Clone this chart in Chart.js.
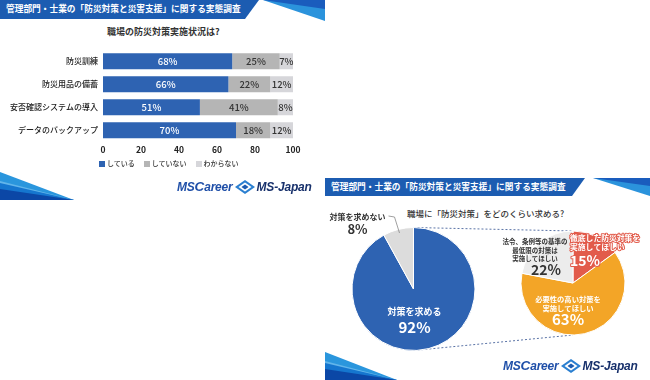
<!DOCTYPE html>
<html><head><meta charset="utf-8">
<script src="https://cdn.jsdelivr.net/npm/chart.js@4.4.0/dist/chart.umd.min.js"></script>
<style>
html,body{margin:0;padding:0;}
body{width:650px;height:380px;background:#fff;position:relative;overflow:hidden;font-family:"Noto Sans CJK JP",sans-serif;}
.abs{position:absolute;}
.hdr{position:absolute;color:#fff;font-weight:700;font-size:8.7px;white-space:nowrap;line-height:1;}
.ttl{position:absolute;color:#333;white-space:nowrap;line-height:1;}
.logo{position:absolute;display:flex;align-items:center;white-space:nowrap;font-family:"Liberation Sans",Arial,sans-serif;font-weight:700;font-style:italic;font-size:12px;line-height:1;}
.logo .msc{color:#1f4fa8;letter-spacing:-0.2px;}
.logo .msc b{font-size:13.5px;}
.logo .msj{color:#17306b;letter-spacing:-0.2px;}
.legend{position:absolute;display:flex;align-items:center;font-size:7px;color:#333;white-space:nowrap;line-height:1;font-weight:500;}
.legend span.box{display:inline-block;width:6px;height:6px;margin-right:2px;}
.legend span.item{display:flex;align-items:center;margin-right:9px;}
</style></head><body>

<svg class="abs" style="left:0;top:0" width="650" height="380">
  <!-- panel 1 header -->
  <polygon points="0,0 259,0 245,19 0,19" fill="#1c5cb1"/>
  <polygon points="263,0 325,0 325,21" fill="#2b93dc"/>
  <polygon points="263,0 325,0 325,9" fill="#1a5cbd"/>
  <!-- panel 2 header -->
  <polygon points="325,178 585,178 572,196 325,196" fill="#1c5cb1"/>
  <polygon points="593,178 650,178 650,196" fill="#2b93dc"/>
  <polygon points="593,178 650,178 650,186" fill="#1a5cbd"/>
  <!-- bottom-left decorations -->
  <g transform="translate(0,172)">
    <polygon points="0,0 74,28 0,28" fill="#2a96dd"/>
    <polygon points="0,9 74,28 0,28" fill="#62b5ea"/>
    <polygon points="0,11 74,28 0,28" fill="#1576cf"/>
    <polygon points="0,17 74,28 0,28" fill="#0b47a6"/>
  </g>
  <g transform="translate(325,352)">
    <polygon points="0,0 72,28 0,28" fill="#2a96dd"/>
    <polygon points="0,9 72,28 0,28" fill="#62b5ea"/>
    <polygon points="0,11 72,28 0,28" fill="#1576cf"/>
    <polygon points="0,17 72,28 0,28" fill="#0b47a6"/>
  </g>
</svg>

<div class="hdr" style="left:6px;top:5px;">管理部門・士業の「防災対策と災害支援」に関する実態調査</div>
<div class="hdr" style="left:331px;top:183px;">管理部門・士業の「防災対策と災害支援」に関する実態調査</div>

<div class="ttl" style="left:107px;top:27px;font-size:9px;font-weight:700;">職場の防災対策実施状況は?</div>
<div class="ttl" style="left:407px;top:209px;font-size:8.5px;font-weight:500;">職場に「防災対策」をどのくらい求める?</div>

<canvas id="overlay" class="abs" width="650" height="380" style="left:0;top:0;"></canvas>
<canvas id="bar" class="abs" width="310" height="118" style="left:0;top:40px;"></canvas>
<div id="legend" class="legend" style="left:99px;top:160px;"></div>
<canvas id="pie1" class="abs" width="160" height="160" style="left:325px;top:200px;"></canvas>
<canvas id="pie2" class="abs" width="170" height="150" style="left:480px;top:200px;"></canvas>

<div class="logo" style="left:177px;top:180px;">
  <span class="msc">MS<b>C</b>areer</span>
  <svg width="20" height="14" viewBox="0 0 20 14" style="margin:0 2px;">
    <polygon points="10,0 20,7 10,14 0,7" fill="#2a7fd0"/>
    <polygon points="10,2.5 16.5,7 10,11.5 3.5,7" fill="#fff"/>
    <polygon points="10,4.5 13.5,7 10,9.5 6.5,7" fill="#1c5cb1"/>
  </svg>
  <span class="msj">MS-Japan</span>
</div>
<div class="logo" style="left:503px;top:359px;">
  <span class="msc">MS<b>C</b>areer</span>
  <svg width="20" height="14" viewBox="0 0 20 14" style="margin:0 2px;">
    <polygon points="10,0 20,7 10,14 0,7" fill="#2a7fd0"/>
    <polygon points="10,2.5 16.5,7 10,11.5 3.5,7" fill="#fff"/>
    <polygon points="10,4.5 13.5,7 10,9.5 6.5,7" fill="#1c5cb1"/>
  </svg>
  <span class="msj">MS-Japan</span>
</div>

<script>
// ---------- data ----------
const barCategories = ['防災訓練', '防災用品の備蓄', '安否確認システムの導入', 'データのバックアップ'];
const barSeriesNames = ['している', 'していない', 'わからない'];
const doing = [68, 66, 51, 70];
const notDoing = [25, 22, 41, 18];
const unknown = [7, 12, 8, 12];
const xTicks = [0, 20, 40, 60, 80, 100];

const pie1Labels = ['対策を求める', '対策を求めない'];
const pie1Values = [92, 8];

const pie2Labels = ['徹底した防災対策を\n実施してほしい', '必要性の高い対策を\n実施してほしい', '法令、条例等の基準の\n最低限の対策は\n実施してほしい'];
const pie2Values = [15, 63, 22];

// ---------- styles ----------
const FONT = '"Noto Sans CJK JP", sans-serif';
const barColors = ['#2e63b2', '#b5b5b5', '#d6d6da'];
const barLabelColors = ['#ffffff', '#333333', '#333333'];
const pie1Colors = ['#2e63b2', '#dcdcdc'];
const pie2Colors = ['#e25b4b', '#f3a527', '#ececec'];

// label layout (offsets from pie centre, in px)
const pie1LabelLayout = [
  {x: 1, y: 23, lineH: 10, size: 9, pctSize: 15, pctGap: 15, color: '#fff', align: 'center'},
  {x: -56, y: -72, lineH: 10, size: 8, pctSize: 13, pctGap: 12, color: '#333', align: 'center',
   leader: [[-25, -73], [-19, -72], [-14, -56]]}
];
const pie2LabelLayout = [
  {x: -3, y: -45, lineH: 9.5, size: 7.8, pctSize: 14, pctGap: 13, color: '#fff', stroke: '#e25b4b', align: 'left'},
  {x: -5, y: 16, lineH: 9.5, size: 7.3, pctSize: 15, pctGap: 11, color: '#fff', align: 'center'},
  {x: -38, y: -41, lineH: 8.5, size: 6.5, pctSize: 14, pctGap: 11, pctX: 11, color: '#333', align: 'center'}
];

// ---------- bar chart ----------
const barLabelPlugin = {
  id: 'barLabels',
  afterDatasetsDraw(chart) {
    const ctx = chart.ctx;
    chart.data.datasets.forEach((ds, i) => {
      chart.getDatasetMeta(i).data.forEach((bar, j) => {
        const c = bar.getCenterPoint();
        ctx.save();
        ctx.fillStyle = barLabelColors[i];
        ctx.font = '500 9.5px ' + FONT;
        ctx.textAlign = 'center';
        ctx.textBaseline = 'middle';
        ctx.fillText(ds.data[j] + '%', c.x, c.y + 0.5);
        ctx.restore();
      });
    });
  }
};

const seriesData = [doing, notDoing, unknown];
new Chart(document.getElementById('bar'), {
  type: 'bar',
  data: {
    labels: barCategories,
    datasets: barSeriesNames.map((n, i) => ({label: n, data: seriesData[i], backgroundColor: barColors[i], borderWidth: 0}))
  },
  options: {
    indexAxis: 'y',
    responsive: false,
    animation: false,
    devicePixelRatio: 1,
    layout: {padding: {top: 2, right: 17, bottom: 0, left: 0}},
    datasets: {bar: {barPercentage: 0.69, categoryPercentage: 1}},
    plugins: {legend: {display: false}, tooltip: {enabled: false}},
    scales: {
      x: {
        stacked: true, min: 0, max: 100,
        grid: {display: false, drawTicks: false},
        border: {display: false},
        ticks: {padding: 3, color: '#222', font: {size: 8.5, family: FONT, weight: '700'}},
        afterBuildTicks(s) { s.ticks = xTicks.map(v => ({value: v})); }
      },
      y: {
        stacked: true,
        grid: {display: false, drawTicks: false},
        border: {display: false},
        ticks: {padding: 5, color: '#222', font: {size: 8, family: FONT, weight: '500'}},
        afterFit(s) { s.width = 103; }
      }
    }
  },
  plugins: [barLabelPlugin]
});

// HTML legend
const lg = document.getElementById('legend');
barSeriesNames.forEach((n, i) => {
  const it = document.createElement('span');
  it.className = 'item';
  it.innerHTML = '<span class="box" style="background:' + barColors[i] + '"></span>' + n;
  lg.appendChild(it);
});

// ---------- pies ----------
function makePieLabels(labels, values, layout) {
  return {
    id: 'pieLabels',
    afterDatasetsDraw(chart) {
      const ctx = chart.ctx;
      const arcs = chart.getDatasetMeta(0).data;
      arcs.forEach((arc, i) => {
        const L = layout[i];
        const cx = arc.x, cy = arc.y;
        const lines = labels[i].split('\n');
        ctx.save();
        ctx.textBaseline = 'middle';
        ctx.textAlign = L.align;
        ctx.lineJoin = 'round';
        ctx.font = '700 ' + L.size + 'px ' + FONT;
        let y = cy + L.y;
        lines.forEach((t, k) => {
          const ty = y + k * L.lineH;
          if (L.stroke) { ctx.strokeStyle = L.stroke; ctx.lineWidth = 2; ctx.strokeText(t, cx + L.x, ty); }
          ctx.fillStyle = L.color;
          ctx.fillText(t, cx + L.x, ty);
        });
        const py = y + (lines.length - 1) * L.lineH + L.pctGap;
        ctx.font = '700 ' + L.pctSize + 'px ' + FONT;
        const px = cx + L.x + (L.pctX || 0);
        if (L.stroke) { ctx.strokeStyle = L.stroke; ctx.lineWidth = 2; ctx.strokeText(values[i] + '%', px, py); }
        ctx.fillStyle = L.color;
        ctx.fillText(values[i] + '%', px, py);
        if (L.leader) {
          ctx.beginPath();
          ctx.strokeStyle = '#888';
          ctx.lineWidth = 0.8;
          L.leader.forEach((p, k) => { if (k === 0) ctx.moveTo(cx + p[0], cy + p[1]); else ctx.lineTo(cx + p[0], cy + p[1]); });
          ctx.stroke();
        }
        ctx.restore();
      });
    }
  };
}

const pie1 = new Chart(document.getElementById('pie1'), {
  type: 'pie',
  data: {labels: pie1Labels, datasets: [{data: pie1Values, backgroundColor: pie1Colors, borderColor: '#fff', borderWidth: 1}]},
  options: {
    responsive: false, animation: false, devicePixelRatio: 1,
    layout: {padding: {left: 26.5, right: 9.5, top: 27, bottom: 9}},
    plugins: {legend: {display: false}, tooltip: {enabled: false}}
  },
  plugins: [makePieLabels(pie1Labels, pie1Values, pie1LabelLayout)]
});

const pie2 = new Chart(document.getElementById('pie2'), {
  type: 'pie',
  data: {labels: pie2Labels, datasets: [{data: pie2Values, backgroundColor: pie2Colors, borderColor: '#fff', borderWidth: 1}]},
  options: {
    responsive: false, animation: false, devicePixelRatio: 1,
    layout: {padding: {left: 40.5, right: 24.5, top: 30.5, bottom: 14.5}},
    plugins: {legend: {display: false}, tooltip: {enabled: false}}
  },
  plugins: [makePieLabels(pie2Labels, pie2Values, pie2LabelLayout)]
});

// connector dashed lines between the two pies
(function () {
  const a1 = pie1.getDatasetMeta(0).data[0];
  const a2 = pie2.getDatasetMeta(0).data[0];
  const o1 = {x: 325, y: 200}, o2 = {x: 480, y: 200};
  const x1 = o1.x + a1.x, y1 = o1.y + a1.y, r1 = a1.outerRadius;
  const x2 = o2.x + a2.x, y2 = o2.y + a2.y, r2 = a2.outerRadius;
  const ctx = document.getElementById('overlay').getContext('2d');
  ctx.strokeStyle = '#5a73a6';
  ctx.lineWidth = 1;
  ctx.setLineDash([2, 2]);
  ctx.beginPath();
  ctx.moveTo(x1, y1 - r1); ctx.lineTo(x2, y2 - r2);
  ctx.moveTo(x1, y1 + r1); ctx.lineTo(x2, y2 + r2);
  ctx.stroke();
})();
</script>
</body></html>
